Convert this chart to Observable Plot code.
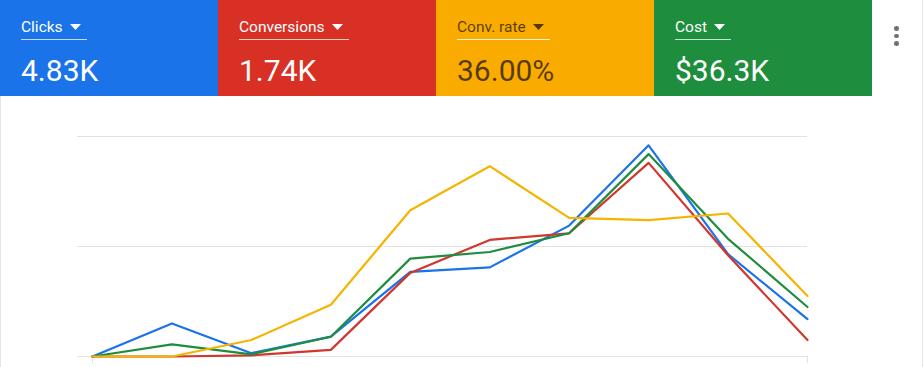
<!DOCTYPE html>
<html>
<head>
<meta charset="utf-8">
<script src="https://cdn.jsdelivr.net/npm/d3@7"></script>
<script src="https://cdn.jsdelivr.net/npm/@observablehq/plot@0.6"></script>
<style>
  html, body { margin: 0; padding: 0; background: #fff; }
  body { width: 923px; height: 367px; position: relative; overflow: hidden; font-family: Roboto, "Noto Sans", sans-serif; }
  .tile { position: absolute; top: 0; height: 96px; width: 218px; }
  .label { position: absolute; left: 21px; top: 19.5px; font-size: 15.5px; line-height: 1; font-weight: 400;
           padding-bottom: 4px; padding-right: 6px; border-bottom: 1px solid rgba(255,255,255,0.75); white-space: nowrap; }
  .label svg { margin-left: 7px; vertical-align: 2px; }
  .value { position: absolute; left: 21px; top: 55.5px; font-size: 30px; line-height: 1; font-weight: 400; white-space: nowrap; }
  .dots { position: absolute; left: 894px; top: 26px; }
  .dots span { display: block; width: 4.5px; height: 4.5px; border-radius: 50%; background: #6f7378; margin-bottom: 3px; }
  .bl { position: absolute; left: 0; top: 96px; width: 1px; height: 271px; background: #e3e3e3; }
  .br { position: absolute; left: 922px; top: 0; width: 1px; height: 367px; background: #e3e3e3; }
  #chart { position: absolute; left: 0; top: 96px; }
</style>
</head>
<body>
<div id="tiles"></div>
<div class="dots"><span></span><span></span><span></span></div>
<div id="chart"></div>
<div class="bl"></div>
<div class="br"></div>
<script>
// ---- Data ----
const metricNames = ["Clicks", "Conversions", "Conv. rate", "Cost"];
const metricTotals = ["4.83K", "1.74K", "36.00%", "$36.3K"];
const tileColors = ["#1a73e8", "#d93025", "#f9ab00", "#1e8e3e"];
const tileTextColors = ["#ffffff", "#ffffff", "rgba(0,0,0,0.66)", "#ffffff"];
const periods = [1, 2, 3, 4, 5, 6, 7, 8, 9, 10];
// normalized series values (chart shows no axis labels)
const clicks      = [0, 0.30, 0.03, 0.18, 0.77, 0.81, 1.19, 1.92, 0.93, 0.34];
const conversions = [0, 0,    0.01, 0.06, 0.76, 1.06, 1.12, 1.76, 0.92, 0.15];
const cost        = [0, 0.11, 0.02, 0.18, 0.89, 0.95, 1.12, 1.84, 1.07, 0.45];
const convRate    = [0, 0,    0.15, 0.47, 1.33, 1.73, 1.26, 1.24, 1.30, 0.55];
const gridValues = [0, 1, 2];
const edgeTicks = [1, 10];
const lineColors = ["#1a73e8", "#d0372d", "#1e8e3e", "#f4b400"];

// ---- Tiles ----
const tilesEl = document.getElementById("tiles");
metricNames.forEach((name, i) => {
  const t = document.createElement("div");
  t.className = "tile";
  t.style.left = (i * 218) + "px";
  t.style.background = tileColors[i];
  t.style.color = tileTextColors[i];
  const underline = i === 2 ? "rgba(255,255,255,0.85)" : "rgba(255,255,255,0.75)";
  t.innerHTML = `<div class="label" style="border-bottom-color:${underline}">${name}<svg width="11" height="6" viewBox="0 0 11 6"><path d="M0 0 L11 0 L5.5 6 Z" fill="currentColor"/></svg></div>` +
                `<div class="value">${metricTotals[i]}</div>`;
  tilesEl.appendChild(t);
});

// ---- Chart ----
const seriesOrder = ["Clicks", "Conversions", "Cost", "Conv. rate"];
const seriesValues = [clicks, conversions, cost, convRate];
const rows = [];
seriesOrder.forEach((s, k) => periods.forEach((p, j) => rows.push({period: p, value: seriesValues[k][j], metric: s})));

const chart = Plot.plot({
  width: 923,
  height: 271,
  marginLeft: 77,
  marginRight: 116,
  marginTop: 40,
  marginBottom: 11,
  style: {background: "transparent", overflow: "visible"},
  x: {domain: [1, 10], insetLeft: 15, label: null},
  y: {domain: [0, 2], axis: null, label: null},
  color: {domain: seriesOrder, range: lineColors},
  marks: [
    Plot.ruleY(gridValues, {stroke: "#e2e2e2", strokeWidth: 1.2}),
    Plot.axisX({ticks: edgeTicks, tickSize: 7, tickFormat: () => "", label: null, stroke: "#e2e2e2", strokeOpacity: 1}),
    Plot.lineY(rows, {x: "period", y: "value", z: "metric", stroke: "metric", strokeWidth: 2.2})
  ]
});
document.getElementById("chart").appendChild(chart);
</script>
</body>
</html>
